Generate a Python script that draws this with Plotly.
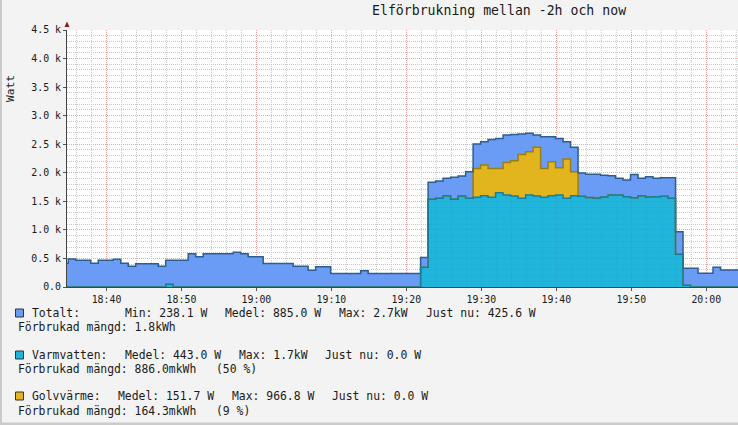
import plotly.graph_objects as go
import pandas as pd

# ---------------- data (one value per minute, W) ----------------
start_time = "2024-01-15 18:33:54"
totalt = [415, 490, 467, 467, 415, 467, 467, 484, 415, 362,
          408, 408, 408, 362, 467, 467, 467, 583, 530, 583,
          583, 583, 583, 607, 583, 530, 530, 412, 412, 412,
          412, 364, 364, 295, 355, 355, 238, 238, 238, 238,
          284, 238, 238, 238, 238, 238, 238, 238, 516, 1832,
          1855, 1902, 1920, 1942, 2018, 2502, 2543, 2584, 2602, 2660,
          2672, 2680, 2690, 2660, 2630, 2630, 2600, 2543, 2445, 1995,
          1975, 1975, 1955, 1950, 1902, 1872, 1972, 1902, 1930, 1902,
          1913, 1913, 968, 327, 327, 239, 239, 344, 297, 297,
          297, 297]
varmvatten = [0, 0, 0, 0, 0, 0, 0, 0, 0, 0,
              0, 0, 0, 0, 50, 0, 0, 0, 0, 0,
              0, 0, 0, 0, 0, 0, 0, 0, 0, 0,
              0, 0, 0, 0, 0, 0, 0, 0, 0, 0,
              0, 0, 0, 0, 0, 0, 0, 0, 345, 1535,
              1552, 1598, 1535, 1592, 1552, 1570, 1598, 1570, 1650, 1610,
              1592, 1552, 1610, 1592, 1570, 1598, 1610, 1552, 1598, 1590,
              1565, 1560, 1575, 1610, 1610, 1580, 1563, 1598, 1575, 1580,
              1590, 1552, 572, 30, 0, 0, 0, 0, 0, 0,
              0, 0]
golvvarme = [0] * 55 + [507, 537, 507, 427, 571, 618, 770, 758, 853, 507,
                        595, 478, 688, 420] + [0] * 23

x_range = ["2024-01-15 18:34:44", "2024-01-15 20:04:14"]
y_range = [0, 4500]
y_tickvals = [0, 500, 1000, 1500, 2000, 2500, 3000, 3500, 4000, 4500]
y_ticktext = ["0.0", "0.5 k", "1.0 k", "1.5 k", "2.0 k", "2.5 k",
              "3.0 k", "3.5 k", "4.0 k", "4.5 k"]
x_minor = [t for t in pd.date_range("2024-01-15 18:36", "2024-01-15 20:04", freq="2min")
           if t.minute % 10 != 0]

title_text = "Elförbrukning mellan -2h och now"
legend_rows = [
    # (y_px, [(x_px, text), ...])
    (313, [(30, "Totalt:"), (123, "Min: 238.1 W"), (223, "Medel: 885.0 W"),
           (337, "Max: 2.7kW"), (424, "Just nu: 425.6 W")]),
    (327, [(16, "Förbrukad mängd: 1.8kWh")]),
    (355, [(30, "Varmvatten:"), (123, "Medel: 443.0 W"), (237, "Max: 1.7kW"),
           (323, "Just nu: 0.0 W")]),
    (369, [(16, "Förbrukad mängd: 886.0mkWh"), (214, "(50 %)")]),
    (396, [(30, "Golvvärme:"), (116, "Medel: 151.7 W"), (230, "Max: 966.8 W"),
           (330, "Just nu: 0.0 W")]),
    (411, [(16, "Förbrukad mängd: 164.3mkWh"), (214, "(9 %)")]),
]

# ---------------- styling ----------------
C_TOT, C_TOT_L = "#6A9BF5", "#2E5E8E"
C_VV, C_VV_L = "rgba(0,170,215,0.87)", "#187E9C"
C_VV_SW = "#1EB4DC"
C_GV, C_GV_L = "#E2B41E", "#9A7E14"
FONT = "DejaVu Sans Mono"

W, H = 738, 425
L, R, T, B = 67, 0, 30, 138
PW, PH = W - L - R, H - T - B


def px(xp):
    return (xp - L) / PW


def py(yp):
    return (H - B - yp) / PH


times = pd.date_range(start_time, periods=len(totalt), freq="1min")
stack_top = [v + g for v, g in zip(varmvatten, golvvarme)]

MAJ = "#F2A4A4"
MIN = "#C8C8C8"

fig = go.Figure()
# vertical minor grid (every 2 minutes) drawn as the bottom-most layer
gx, gy = [], []
for t in x_minor:
    gx += [t, t, None]
    gy += [y_range[0], y_range[1], None]
fig.add_trace(go.Scatter(x=gx, y=gy, mode="lines", line=dict(color=MIN, width=1, dash="1px,1px"),
                         showlegend=False, hoverinfo="skip", connectgaps=False))
# Varmvatten (translucent, grid shows through like the original)
fig.add_trace(go.Scatter(x=times, y=varmvatten, mode="lines", fill="tozeroy",
                         fillcolor=C_VV, line=dict(shape="hv", color=C_VV_L, width=0),
                         showlegend=False, hoverinfo="skip"))
# Golvvärme stacked on Varmvatten
fig.add_trace(go.Scatter(x=times, y=stack_top, mode="lines", fill="tonexty",
                         fillcolor=C_GV, line=dict(shape="hv", color=C_GV_L, width=1.5),
                         showlegend=False, hoverinfo="skip"))
# Totalt, filled down to the stacked series
fig.add_trace(go.Scatter(x=times, y=totalt, mode="lines", fill="tonexty",
                         fillcolor=C_TOT, line=dict(shape="hv", color=C_TOT_L, width=1.5),
                         showlegend=False, hoverinfo="skip"))
# Varmvatten outline on top
fig.add_trace(go.Scatter(x=times, y=varmvatten, mode="lines",
                         line=dict(shape="hv", color=C_VV_L, width=1.5),
                         showlegend=False, hoverinfo="skip"))

fig.update_xaxes(type="date", range=x_range, tickformat="%H:%M",
                 tickmode="linear", tick0="2024-01-15 18:40", dtick=600000,
                 showgrid=True, gridcolor=MAJ, griddash="1px,1px", gridwidth=1,
                 ticks="outside", ticklen=3, tickcolor="#555",
                 showline=True, linecolor="#444", linewidth=1,
                 tickfont=dict(family=FONT, size=9.9, color="#1a1a1a"),
                 zeroline=False, fixedrange=True)
fig.update_yaxes(range=y_range, tickvals=y_tickvals, ticktext=y_ticktext,
                 showgrid=True, gridcolor=MAJ, griddash="1px,1px", gridwidth=1,
                 minor=dict(tickmode="linear", tick0=0, dtick=100, showgrid=True,
                            gridcolor=MIN, griddash="1px,1px", gridwidth=1),
                 ticks="outside", ticklen=3, tickcolor="#555",
                 showline=True, linecolor="#444", linewidth=1,
                 tickfont=dict(family=FONT, size=9.9, color="#1a1a1a"),
                 zeroline=False, fixedrange=True)

shapes = []
# axis arrow at top of y-axis
shapes.append(dict(type="path", xref="paper", yref="paper",
                   path=f"M {px(64.5)} {py(27)} L {px(69.5)} {py(27)} L {px(67)} {py(21.5)} Z",
                   fillcolor="#8B1A1A", line=dict(width=0)))
# frame borders
shapes.append(dict(type="rect", xref="paper", yref="paper", x0=px(0), x1=px(2),
                   y0=py(H), y1=py(0), fillcolor="#CBCBCB", line=dict(width=0)))
shapes.append(dict(type="rect", xref="paper", yref="paper", x0=px(0), x1=px(W),
                   y0=py(H), y1=py(H - 2.5), fillcolor="#CBCBCB", line=dict(width=0)))
# legend swatches
for ycen, col in [(313, C_TOT), (355, C_VV_SW), (396, C_GV)]:
    shapes.append(dict(type="rect", xref="paper", yref="paper",
                       x0=px(15.5), x1=px(23.5), y0=py(ycen + 4), y1=py(ycen - 4),
                       fillcolor=col, line=dict(color="#333", width=1)))

annotations = [
    dict(text=title_text, x=px(370), y=py(10), xref="paper", yref="paper",
         xanchor="left", yanchor="middle", showarrow=False,
         font=dict(family=FONT, size=13.2, color="#1a1a1a")),
    dict(text="Watt", x=px(10), y=py(88), xref="paper", yref="paper",
         xanchor="center", yanchor="middle", showarrow=False, textangle=-90,
         font=dict(family=FONT, size=11.2, color="#1a1a1a")),
]
for ycen, chunks in legend_rows:
    for xp, txt in chunks:
        annotations.append(dict(text=txt, x=px(xp), y=py(ycen), xref="paper", yref="paper",
                                xanchor="left", yanchor="middle", showarrow=False,
                                font=dict(family=FONT, size=11.4, color="#1a1a1a")))

fig.update_layout(width=W, height=H, margin=dict(l=L, r=R, t=T, b=B),
                  paper_bgcolor="#F3F3F3", plot_bgcolor="#FFFFFF",
                  shapes=shapes, annotations=annotations, showlegend=False)

fig.write_html("out.html", config={"displayModeBar": False, "staticPlot": True},
               post_script="document.body.style.margin='0';document.body.style.padding='0';")
